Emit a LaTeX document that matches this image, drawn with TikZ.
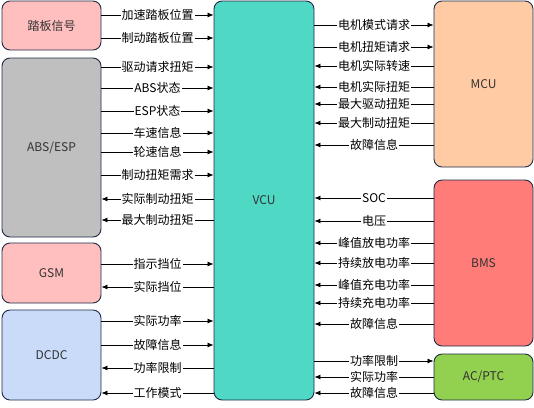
\documentclass[tikz,border=0pt]{standalone}
\usepackage{fontspec}
\setmainfont{Noto Sans CJK SC}
\usetikzlibrary{arrows.meta}

\definecolor{pinkfill}{HTML}{FFBFBF}
\definecolor{grayfill}{HTML}{BFBFBF}
\definecolor{bluefill}{HTML}{C9DBF8}
\definecolor{vcufill}{HTML}{4FD8C4}
\definecolor{mcufill}{HTML}{FFCBA5}
\definecolor{bmsfill}{HTML}{FF7C78}
\definecolor{acfill}{HTML}{92D050}
\definecolor{edge}{HTML}{1F2A48}
\definecolor{txt}{HTML}{333333}

\begin{document}
\begin{tikzpicture}[x=1pt,y=-1pt,
  font=\fontsize{12}{14}\selectfont,
  box/.style={rectangle,draw=edge,line width=0.9pt,rounded corners=8pt,inner sep=0pt,text=txt},
  sig/.style={line width=0.8pt,-{Latex[length=6pt,width=5pt]}},
  lbl/.style={fill=white,inner sep=1pt,text=black}]
\useasboundingbox (0,0) rectangle (534,407);

\node [box,fill=pinkfill,minimum width=99,minimum height=49] (pedal) at (51.5,25.5) {踏板信号};
\node [box,fill=grayfill,minimum width=99,minimum height=179] (abs) at (51.5,147.5) {ABS/ESP};
\node [box,fill=pinkfill,minimum width=99,minimum height=60] (gsm) at (51.5,273) {GSM};
\node [box,fill=bluefill,minimum width=99,minimum height=90] (dcdc) at (51.5,355) {DCDC};
\node [box,fill=vcufill,minimum width=100,minimum height=399] (vcu) at (264,200.5) {VCU};
\node [box,fill=mcufill,minimum width=99,minimum height=166] (mcu) at (483.5,84) {MCU};
\node [box,fill=bmsfill,minimum width=99,minimum height=166] (bms) at (483.5,263) {BMS};
\node [box,fill=acfill,minimum width=99,minimum height=46] (ac) at (483.5,377) {AC/PTC};

% left side
\foreach \y/\t in {15/加速踏板位置,38/制动踏板位置}
  \draw[sig] (pedal.east |- 0,\y) -- node[lbl]{\t} (vcu.west |- 0,\y);
\foreach \y/\t in {67/驱动请求扭矩,88/ABS状态,111/ESP状态,133/车速信息,152/轮速信息,175/制动扭矩需求}
  \draw[sig] (abs.east |- 0,\y) -- node[lbl]{\t} (vcu.west |- 0,\y);
\foreach \y/\t in {199/实际制动扭矩,220/最大制动扭矩}
  \draw[sig] (vcu.west |- 0,\y) -- node[lbl]{\t} (abs.east |- 0,\y);
\draw[sig] (gsm.east |- 0,264) -- node[lbl]{指示挡位} (vcu.west |- 0,264);
\draw[sig] (vcu.west |- 0,287) -- node[lbl]{实际挡位} (gsm.east |- 0,287);
\foreach \y/\t in {321/实际功率,345/故障信息}
  \draw[sig] (dcdc.east |- 0,\y) -- node[lbl]{\t} (vcu.west |- 0,\y);
\foreach \y/\t in {368/功率限制,393/工作模式}
  \draw[sig] (vcu.west |- 0,\y) -- node[lbl]{\t} (dcdc.east |- 0,\y);

% right side
\foreach \y/\t in {25/电机模式请求,47/电机扭矩请求}
  \draw[sig] (vcu.east |- 0,\y) -- node[lbl]{\t} (mcu.west |- 0,\y);
\foreach \y/\t in {66/电机实际转速,87/电机实际扭矩,104/最大驱动扭矩,123/最大制动扭矩,145/故障信息}
  \draw[sig] (mcu.west |- 0,\y) -- node[lbl]{\t} (vcu.east |- 0,\y);
\foreach \y/\t in {198/SOC,221/电压,243/峰值放电功率,263/持续放电功率,285/峰值充电功率,303/持续充电功率,324/故障信息}
  \draw[sig] (bms.west |- 0,\y) -- node[lbl]{\t} (vcu.east |- 0,\y);
\draw[sig] (vcu.east |- 0,361) -- node[lbl]{功率限制} (ac.west |- 0,361);
\foreach \y/\t in {377/实际功率,393/故障信息}
  \draw[sig] (ac.west |- 0,\y) -- node[lbl]{\t} (vcu.east |- 0,\y);
\end{tikzpicture}
\end{document}
